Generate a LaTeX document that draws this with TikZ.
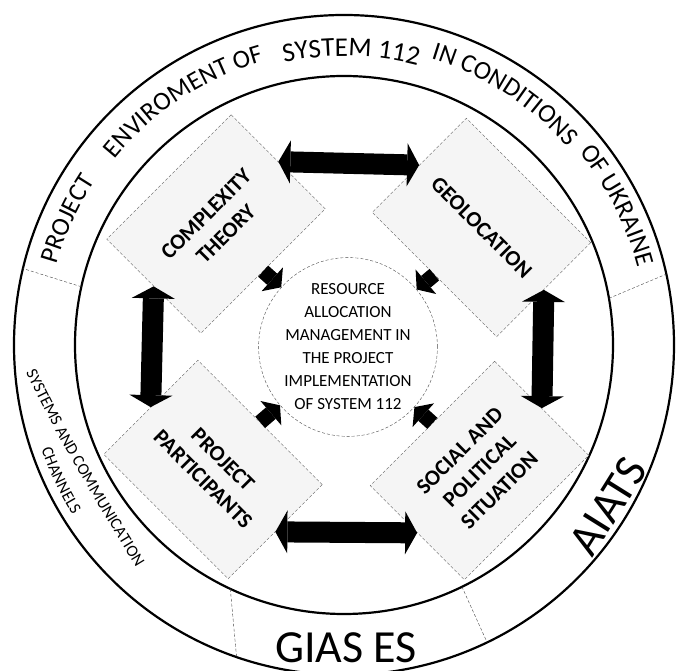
\documentclass[tikz,border=0pt]{standalone}
\usepackage{fontspec}
\setmainfont{Carlito}
\usetikzlibrary{arrows.meta,decorations.text}

\newcommand{\ringfont}{\fontsize{26}{28}\selectfont}
\newcommand{\bigringfont}{\fontsize{27}{29}\selectfont}
\newcommand{\chanfont}{\fontsize{16.5}{18}\selectfont}
\newcommand{\boxfont}{\fontsize{22}{28}\selectfont\bfseries}
\newcommand{\corefont}{\fontsize{17}{23}\selectfont}
\newcommand{\labfont}{\fontsize{46}{50}\selectfont}

\tikzset{every picture/.style={line width=0.75pt}}
\tikzset{
  ring/.style={line width=2.2pt},
  divider/.style={thin, black!75, densely dashed},
  factor/.style={draw=black!65, densely dashed, thin, fill=black!4, minimum width=176pt, minimum height=133pt, inner sep=0pt, align=center, font=\boxfont},
  link/.style={line width=21pt, {Triangle[width=43pt,length=12pt,line width=0pt]}-{Triangle[width=43pt,length=12pt,line width=0pt]}},
  feed/.style={line width=15pt, -{Triangle[width=32pt,length=12pt,line width=0pt]}},
  ringtext/.style={decorate, decoration={text along path, text align=center, text={#1}}},
}

\begin{document}
\begin{tikzpicture}[x=1pt,y=1pt]
\useasboundingbox (-344,-326) rectangle (333,345);

%Shape: Circle
\draw[ring] (0,0) circle[radius=330];
%Shape: Circle
\draw[ring] (0,0) circle[radius=269];

%Straight Lines
\draw[divider] (167.5:269) -- (166.6:330);
\draw[divider] (10:269) -- (12.4:330);
\draw[divider] (245:269) -- (251:330);
\draw[divider] (-64:269) -- (-64.3:330);

% Text along the ring
\path[ringtext={|\ringfont|PROJECT}] (185.5:298) arc[start angle=185.5, end angle=125.5, radius=298];
\path[ringtext={|\ringfont|ENVIROMENT OF}] (158.4:295) arc[start angle=158.4, end angle=88.4, radius=295];
\path[ringtext={|\bigringfont|SYSTEM 112}] (123.6:289) arc[start angle=123.6, end angle=53.6, radius=289];
\path[ringtext={|\ringfont|IN CONDITIONS}] (92.3:299) arc[start angle=92.3, end angle=22.3, radius=299];
\path[ringtext={|\ringfont|OF UKRAINE}] (62.1:304) arc[start angle=62.1, end angle=-7.9, radius=304];
\path[ringtext={|\chanfont|SYSTEMS AND COMMUNICATION}] (-333.7,4.5) .. controls (-282,-101) .. (-189.4,-252.6);
\path[ringtext={|\chanfont|CHANNELS}] (175.5:320) arc[start angle=175.5, end angle=235.5, radius=320];

% Text Node
\node (gias) at (2,-317) [anchor=base, inner sep=0pt, font=\labfont] {GIAS ES};
% Text Node
\node (aiats) at (264,-161) [rotate=58, inner sep=0pt, font=\labfont] {AIATS};

%Shape: Rectangle
\node (tl) at (-128,121) [factor, rotate=45] {COMPLEXITY\\THEORY};
%Shape: Rectangle
\node (tr) at (137.5,117.5) [factor, rotate=-45] {GEOLOCATION};
%Shape: Rectangle
\node (bl) at (-131,-124.5) [factor, rotate=-45] {PROJECT\\PARTICIPANTS};
%Shape: Rectangle
\node (br) at (135.5,-125.5) [factor, rotate=45] {SOCIAL AND\\POLITICAL\\SITUATION};

%Shape: Circle
\node (core) at (4,-2) [circle, draw=black!70, densely dashed, thin, fill=white, minimum size=176pt, inner sep=0pt, align=center, font=\corefont] {RESOURCE\\ALLOCATION\\MANAGEMENT IN\\THE PROJECT\\IMPLEMENTATION\\OF SYSTEM 112};

%Straight Lines
\draw[link] (tl.east) -- (tr.west);
\draw[link] (tl.west) -- (bl.west);
\draw[link] (tr.east) -- (br.east);
\draw[link] (bl.east) -- (br.west);

%Straight Lines
\draw[feed] (tl.south) -- (core);
\draw[feed] (tr.south) -- (core);
\draw[feed] (bl.north) -- (core);
\draw[feed] (br.north) -- (core);

\end{tikzpicture}
\end{document}
